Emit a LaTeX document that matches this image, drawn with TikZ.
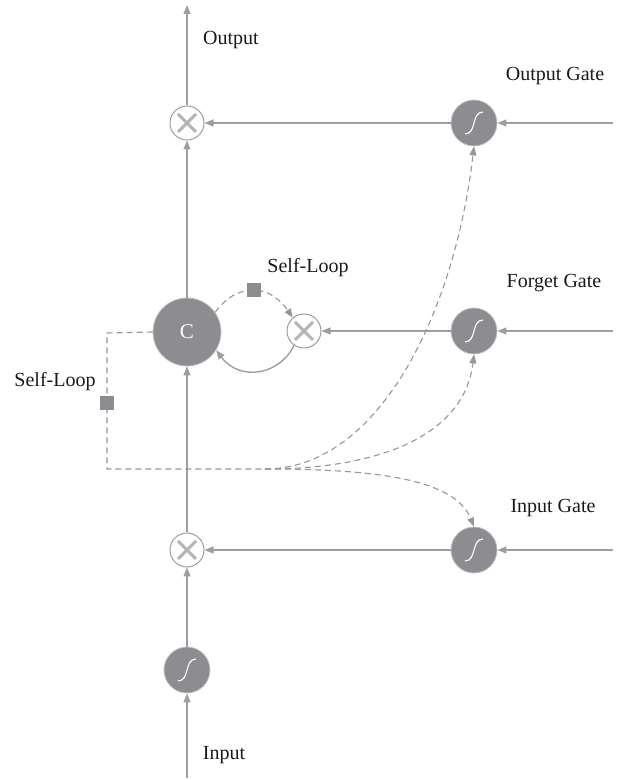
\documentclass[tikz,border=0pt]{standalone}
\usepackage{fontspec}
\setmainfont{Liberation Serif}
\usetikzlibrary{arrows.meta}

\definecolor{nodegray}{RGB}{140,140,145}
\definecolor{linegray}{RGB}{158,158,162}
\definecolor{dashgray}{RGB}{150,150,155}

\tikzset{
  x=1pt, y=1pt,
  tip/.style={-{Triangle[length=9pt,width=7pt]}},
  sig/.style={circle, fill=nodegray, draw=nodegray!55!white, line width=0.8pt,
              minimum size=46pt, inner sep=0pt},
  mult/.style={circle, fill=white, draw=linegray, line width=1pt,
               minimum size=34pt, inner sep=0pt},
  cell/.style={circle, fill=nodegray, draw=nodegray!55!white, line width=0.8pt,
               minimum size=68pt, inner sep=0pt, text=white,
               font=\fontsize{21}{23}\selectfont},
  flow/.style={draw=linegray, line width=1.4pt, tip},
  loop/.style={draw=dashgray, line width=1.1pt, dash pattern=on 6pt off 4pt},
  lbl/.style={font=\fontsize{20}{22}\selectfont, text=black!90},
  sq/.style={rectangle, fill=nodegray, minimum size=14pt, inner sep=0pt},
  pics/sgm/.style={code={
    \draw[white, line width=1.1pt]
      (-9pt,-11pt) .. controls (3pt,-11pt) and (-3pt,11pt) .. (9pt,11pt);}},
  pics/times/.style={code={
    \draw[nodegray!85!white, line width=3pt, opacity=0.75]
      (-9pt,-9pt) -- (9pt,9pt) (-9pt,9pt) -- (9pt,-9pt);}},
}

\begin{document}
\begin{tikzpicture}
\path[use as bounding box] (0,0) rectangle (629,780);

% cell, gates and multipliers
\node[mult] (mO) at (187,657) {};
\node[sig]  (gO) at (474,657) {};
\node[cell] (C)  at (187,448) {C};
\node[mult] (mF) at (304,449) {};
\node[sig]  (gF) at (474,449) {};
\node[mult] (mI) at (187,230) {};
\node[sig]  (gI) at (474,230) {};
\node[sig]  (sIn) at (187,110) {};

\pic at (gO) {sgm};
\pic at (gF) {sgm};
\pic at (gI) {sgm};
\pic at (sIn) {sgm};
\pic at (mO) {times};
\pic at (mF) {times};
\pic at (mI) {times};

% free ends
\coordinate (top) at (187,775);
\coordinate (bot) at (187,2);
\coordinate (inO) at (613,657);
\coordinate (inF) at (613,449);
\coordinate (inI) at (613,230);
\coordinate (fan) at (265,311);
\coordinate (cL) at (107,447);
\coordinate (cB) at (107,311);

% main signal path
\draw[flow] (bot) -- (sIn);
\draw[flow] (sIn) -- (mI);
\draw[flow] (mI) -- (C);
\draw[flow] (C) -- (mO);
\draw[flow] (mO) -- (top);

% gate inputs and outputs
\draw[flow] (inO) -- (gO);
\draw[flow] (gO) -- (mO);
\draw[flow] (inF) -- (gF);
\draw[flow] (gF) -- (mF);
\draw[flow] (inI) -- (gI);
\draw[flow] (gI) -- (mI);

% recurrent self-loop through the forget multiplier
\draw[loop, tip] (C.35) .. controls (226,482) and (238,490) .. (254,490)
  .. controls (270,490) and (282,478) .. (mF.130);
\node[sq] (sqT) at (254,490) {};
\draw[flow] (mF.235) .. controls (280,405) and (240,398) .. (C.-32);

% peephole connections from the cell state to the gates
\draw[loop] (C.west) -- (cL) -- (cB) -- (fan);
\node[sq] (sqL) at (107,377) {};
\draw[loop, tip] (fan) .. controls (380,311) and (455,470) .. (gO.south);
\draw[loop, tip] (fan) .. controls (390,311) and (465,350) .. (gF.south);
\draw[loop, tip] (fan) .. controls (380,311) and (455,300) .. (gI.north);

% labels
\node[lbl] (tOut)  at (231,740) {Output};
\node[lbl] (tOG)   at (555,704) {Output Gate};
\node[lbl] (tSL1)  at (308,512) {Self-Loop};
\node[lbl] (tFG)   at (554,497) {Forget Gate};
\node[lbl] (tSL2)  at (55,398)  {Self-Loop};
\node[lbl] (tIG)   at (553,272) {Input Gate};
\node[lbl] (tIn)   at (224,25)  {Input};
\end{tikzpicture}
\end{document}
